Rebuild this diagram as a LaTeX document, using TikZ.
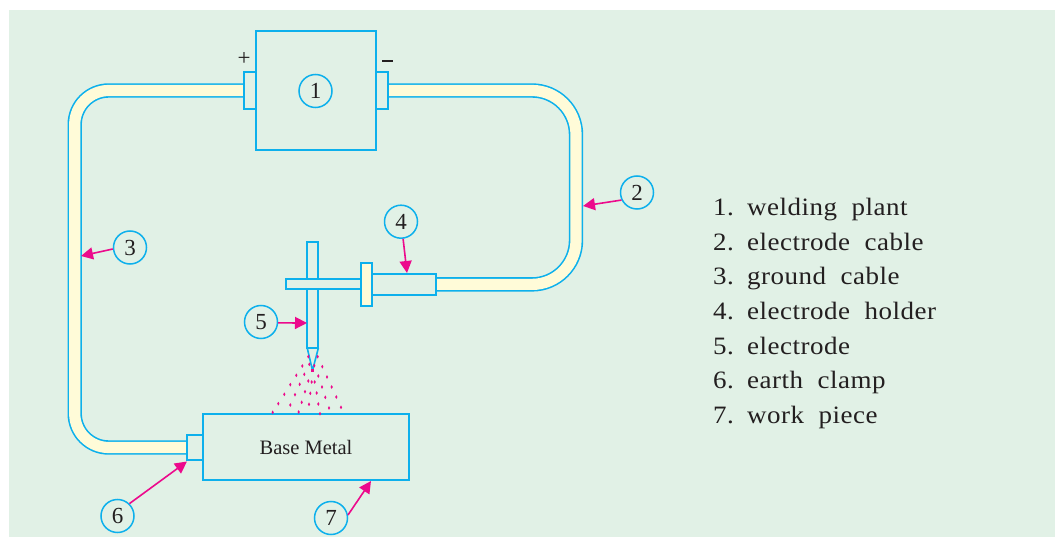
\documentclass[tikz,border=0pt]{standalone}
\usepackage{fontspec}
\setmainfont{Liberation Serif}
\newfontfamily\listfont[FakeStretch=1.08,LetterSpace=2,WordSpace=2]{Liberation Serif}
\usetikzlibrary{arrows.meta}
\definecolor{bgc}{HTML}{E1F1E6}
\definecolor{cyanc}{HTML}{0DB0EC}
\definecolor{yel}{HTML}{FFFBD8}
\definecolor{mag}{HTML}{EC0A8C}
\definecolor{ink}{HTML}{231F20}
\tikzset{
  partbox/.style={draw=cyanc,line width=1.9pt,fill=bgc,inner sep=0pt,outer sep=0pt},
  yelbox/.style={partbox,fill=yel},
  numc/.style={circle,draw=cyanc,line width=1.5pt,fill=bgc,minimum size=33pt,inner sep=0pt,text=ink,font=\fontsize{23}{25}\selectfont},
  pointer/.style={draw=mag,line width=1.6pt,-{Triangle[length=12pt,width=12pt]}},
  cableout/.style={draw=cyanc,line width=14.4pt},
  cablein/.style={draw=yel,line width=11.2pt},
  listitem/.style={anchor=base west,inner sep=0pt,text=ink,font=\listfont\fontsize{25}{30}\selectfont},
  spray/.style={fill=mag}
}
\begin{document}
\begin{tikzpicture}[x=1pt,y=-1pt]
\useasboundingbox (0,0) rectangle (1055,537);
\fill[bgc] (9,10) rectangle (1055,537);
% parts
\node[partbox,minimum width=12.5pt,minimum height=37.5pt] (tabL) at (250,90.5) {};
\node[partbox,minimum width=12.5pt,minimum height=37.5pt] (tabR) at (382,90.5) {};
\node[partbox,minimum width=16pt,minimum height=25pt] (clamp) at (195,447.5) {};
\node[partbox,minimum width=64pt,minimum height=21.5pt] (holder) at (404,284.4) {};
% cables
\coordinate (cl1) at (74.7,90.5);
\coordinate (cl2) at (74.7,447.5);
\coordinate (cr1) at (576,90.5);
\coordinate (cr2) at (576,284.4);
\draw[cableout,rounded corners=34pt] (tabL.west) -- (cl1) -- (cl2) -- (clamp.west);
\draw[cablein,rounded corners=34pt] (tabL.west) -- (cl1) -- (cl2) -- (clamp.west);
\draw[cableout,rounded corners=44pt] (tabR.east) -- (cr1) -- (cr2) -- (holder.east);
\draw[cablein,rounded corners=44pt] (tabR.east) -- (cr1) -- (cr2) -- (holder.east);
\node[partbox,minimum width=12.5pt,minimum height=37.5pt] at (tabL) {};
\node[partbox,minimum width=12.5pt,minimum height=37.5pt] at (tabR) {};
\node[partbox,minimum width=16pt,minimum height=25pt] at (clamp) {};
\node[partbox,minimum width=64pt,minimum height=21.5pt] at (holder) {};
\node[partbox,minimum width=119.5pt,minimum height=119pt] (plant) at (315.8,90.5) {};
\node[partbox,minimum width=206pt,minimum height=66pt,text=ink,font=\fontsize{20.5}{22}\selectfont] (base) at (306,447) {Base Metal};
% electrode
\node[partbox,minimum width=11pt,minimum height=106.5pt] (rod) at (312.8,295) {};
\draw[cyanc,line width=1.6pt,line join=round] (rod.south west) -- (312.5,370.5) -- (rod.south east);
\node[partbox,minimum width=74.7pt,minimum height=10.3pt] (bar) at (323.3,284.2) {};
\node[yelbox,minimum width=11.3pt,minimum height=43.3pt] (flange) at (366.3,284.4) {};
% spray
\foreach \p/\q in {115/35,143/35,97/63,118/58,133/62,157/65,79/91,103/88,145/93,171/96,61/119,89/118,115/108,125/111,134/111,156/126,185/126,43/148,75/149,105/140,121/145,140/144,166/157,199/156,25/176,61/180,95/172,117/178,145/177,177/189,213/187,8/202,86/201,150/206}
  \fill[spray] ({270+\p/3},{345+\q/3}) ellipse (1.15pt and 1.9pt);
\fill[spray] (310.8,369) rectangle (314,372.2);
% numbered circles
\node[numc] (n1) at (315.5,91) {1};
\node[numc] (n2) at (637,192.5) {2};
\node[numc] (n3) at (130,247.5) {3};
\node[numc] (n4) at (401,221.7) {4};
\node[numc] (n5) at (261,322) {5};
\node[numc] (n6) at (117.5,516) {6};
\node[numc] (n7) at (331,518) {7};
% pointer targets
\coordinate (t2) at (583,206);
\coordinate (t3) at (81,256);
\coordinate (t4) at (407,273);
\coordinate (t5) at (307,323);
\coordinate (t6) at (187,461.5);
\coordinate (t7) at (371,481);
\draw[pointer] (n2.206) -- (t2);
\draw[pointer] (n3.185) -- (t3);
\draw[pointer] (n4.277) -- (t4);
\draw[pointer] (n5.-3) -- (t5);
\draw[pointer] (n6.46) -- (t6);
\draw[pointer] (n7.10) -- (t7);
% polarity
\node[text=ink,font=\fontsize{23}{25}\selectfont,inner sep=0pt] (plus) at (244,59) {+};
\node[fill=ink,minimum width=11pt,minimum height=2pt,inner sep=0pt] (minus) at (387.5,61) {};
% legend
\node[listitem] (l1) at (713,216) {\makebox[34pt][l]{1.}welding plant};
\node[listitem] (l2) at (713,250.4) {\makebox[34pt][l]{2.}electrode cable};
\node[listitem] (l3) at (713,285) {\makebox[34pt][l]{3.}ground cable};
\node[listitem] (l4) at (713,319.6) {\makebox[34pt][l]{4.}electrode holder};
\node[listitem] (l5) at (713,354.2) {\makebox[34pt][l]{5.}electrode};
\node[listitem] (l6) at (713,388.8) {\makebox[34pt][l]{6.}earth clamp};
\node[listitem] (l7) at (713,423.5) {\makebox[34pt][l]{7.}work piece};
\end{tikzpicture}
\end{document}
